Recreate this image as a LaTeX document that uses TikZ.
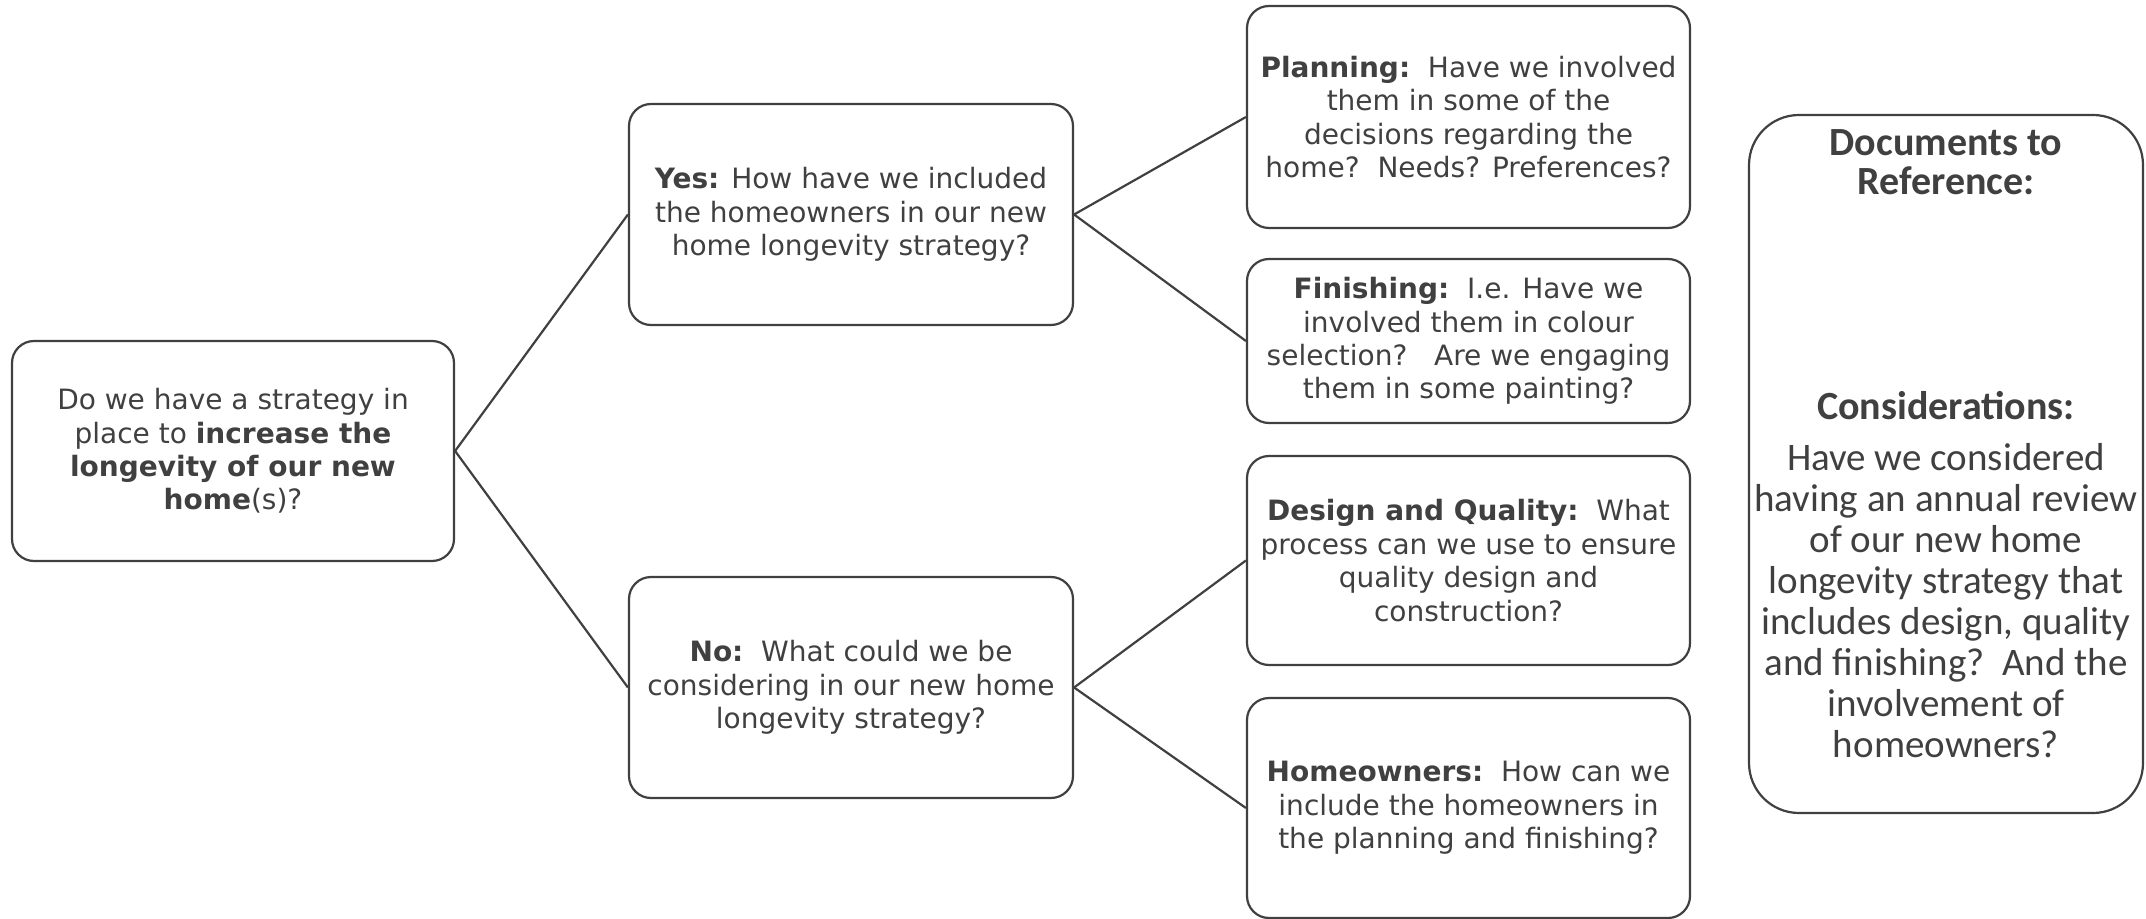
\documentclass[tikz,border=0pt]{standalone}
\usepackage{fontspec}
\setmainfont{DejaVu Sans}
\newfontfamily\calib{Carlito}
\definecolor{ink}{HTML}{404040}
\begin{document}
\begin{tikzpicture}[x=0.5pt,y=-0.5pt,
  box/.style={draw=ink, line width=1.1pt, rounded corners=11pt, fill=white, align=center, inner sep=0pt, text=ink, font=\fontsize{14}{16.7}\selectfont},
  sidetxt/.style={align=center, inner sep=0pt, text=ink, font=\calib\fontsize{19.5}{20.5}\selectfont},
  sidehead/.style={align=center, inner sep=0pt, text=ink, font=\calib\bfseries\fontsize{20}{19.5}\selectfont},
  link/.style={draw=ink, line width=1.1pt}]
\useasboundingbox (0,0) rectangle (2146,919);
\node[box, minimum width=221pt, minimum height=110pt] (root) at (233,451)
  {Do we have a strategy in\\place to \textbf{increase the}\\\textbf{longevity of our new}\\\textbf{home}(s)?};
\node[box, minimum width=222pt, minimum height=110.5pt] (yes) at (851,214.5)
  {\textbf{Yes:} How have we included\\the homeowners in our new\\home longevity strategy?};
\node[box, minimum width=222pt, minimum height=110.5pt] (no) at (851,687.5)
  {\textbf{No:}\ \ What could we be\\considering in our new home\\longevity strategy?};
\node[box, minimum width=221.5pt, minimum height=111pt] (plan) at (1468.5,117)
  {\textbf{Planning:}\ \ Have we involved\\them in some of the\\decisions regarding the\\home?\ \ Needs? Preferences?};
\node[box, minimum width=221.5pt, minimum height=82pt] (fin) at (1468.5,341)
  {\textbf{Finishing:}\ \ I.e. Have we\\involved them in colour\\selection?\ \ \ Are we engaging\\them in some painting?};
\node[box, minimum width=221.5pt, minimum height=104.5pt] (des) at (1468.5,560.5)
  {\textbf{Design and Quality:}\ \ What\\process can we use to ensure\\quality design and\\construction?};
\node[box, minimum width=221.5pt, minimum height=110pt] (home) at (1468.5,808)
  {\textbf{Homeowners:}\ \ How can we\\include the homeowners in\\the planning and finishing?};
\node[box, rounded corners=25pt, minimum width=197pt, minimum height=349pt] (side) at (1946,464) {};
\node[sidehead] (docs) at (1946,162) {Documents to\\Reference:};
\node[sidehead] (cons) at (1946,406) {Considerations:};
\node[sidetxt] (body) at (1946,601) {Have we considered\\having an annual review\\of our new home\\longevity strategy that\\includes design, quality\\and finishing?\ \ And the\\involvement of\\homeowners?};
\draw[link] (root.east) -- (yes.west);
\draw[link] (root.east) -- (no.west);
\draw[link] (yes.east) -- (plan.west);
\draw[link] (yes.east) -- (fin.west);
\draw[link] (no.east) -- (des.west);
\draw[link] (no.east) -- (home.west);
\end{tikzpicture}
\end{document}
